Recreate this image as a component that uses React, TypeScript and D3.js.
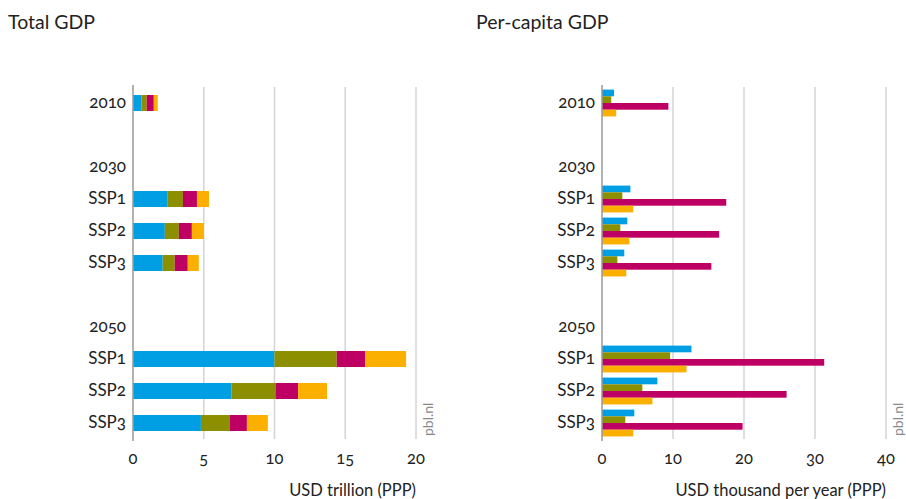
import React from "react";
import * as d3 from "d3";

const rows = ["2010", "", "2030", "SSP1", "SSP2", "SSP3", " ", "2050", "SSP1 ", "SSP2 ", "SSP3 "];
const rowLabels = ["2010", "", "2030", "SSP1", "SSP2", "SSP3", "", "2050", "SSP1", "SSP2", "SSP3"];
const dataRows = ["2010", "SSP1", "SSP2", "SSP3", "SSP1 ", "SSP2 ", "SSP3 "];
const colors = ["#009fe3", "#8c8f00", "#be0064", "#fbb000"];

// Total GDP segments (USD trillion PPP), stacked
const totalR1 = [0.6, 2.42, 2.25, 2.1, 10.0, 6.97, 4.8];
const totalR2 = [0.37, 1.11, 0.99, 0.85, 4.4, 3.1, 2.05];
const totalR3 = [0.5, 0.99, 0.92, 0.92, 2.0, 1.6, 1.2];
const totalR4 = [0.28, 0.85, 0.85, 0.78, 2.9, 2.04, 1.48];

// Per-capita GDP (USD thousand per year PPP)
const pcR1 = [1.7, 4.0, 3.56, 3.14, 12.6, 7.8, 4.55];
const pcR2 = [1.3, 2.86, 2.58, 2.16, 9.6, 5.68, 3.28];
const pcR3 = [9.35, 17.5, 16.5, 15.4, 31.3, 26.0, 19.8];
const pcR4 = [2.0, 4.4, 3.86, 3.42, 11.9, 7.1, 4.4];

const totalTicks = [0, 5, 10, 15, 20];
const pcTicks = [0, 10, 20, 30, 40];

const font = "Lato, 'Open Sans', sans-serif";
const top = 87;
const bottom = 439;
const onum = { fontVariantNumeric: "oldstyle-nums", fontFeatureSettings: "'onum' 1" } as any;

const y = d3.scaleBand<string>().domain(rows).range([top, bottom]);

function Panel({ x0, x1, max, ticks, title, axisTitle, titleX, stacked }: any) {
  const x = d3.scaleLinear().domain([0, max]).range([x0, x1]);
  const series = stacked
    ? [totalR1, totalR2, totalR3, totalR4]
    : [pcR1, pcR2, pcR3, pcR4];
  const marks: any[] = [];
  dataRows.forEach((r, i) => {
    const yc = (y(r) as number) + y.bandwidth() / 2;
    if (stacked) {
      let acc = 0;
      series.forEach((s, k) => {
        const v = s[i];
        marks.push(
          <rect key={r + k} x={x(acc)} y={yc - 8} width={x(acc + v) - x(acc)} height={16} fill={colors[k]} />
        );
        acc += v;
      });
    } else {
      const h = 6.7;
      series.forEach((s, k) => {
        marks.push(
          <rect key={r + k} x={x(0)} y={yc - 2 * h + k * h} width={x(s[i]) - x(0)} height={h} fill={colors[k]} />
        );
      });
    }
  });
  return (
    <g>
      <text x={titleX} y={29} fontSize={19.5} fill="#222" fontFamily={font}>{title}</text>
      {ticks.slice(1).map((t: number) => (
        <line key={t} x1={x(t)} x2={x(t)} y1={top} y2={bottom} stroke="#d4d4d4" strokeWidth={1.5} />
      ))}
      {marks}
      <line x1={x(0)} x2={x(0)} y1={top - 2} y2={bottom + 2} stroke="#999" strokeWidth={1.5} />
      {ticks.map((t: number) => (
        <text key={t} x={x(t)} y={464} textAnchor="middle" fontSize={16.5} fill="#222" fontFamily={font} style={onum}>{t}</text>
      ))}
      {rows.map((r, i) => (
        <text key={i} x={x0 - 7} y={(y(r) as number) + y.bandwidth() / 2 + 5} textAnchor="end" fontSize={17} fill="#222" fontFamily={font} style={onum}>{rowLabels[i]}</text>
      ))}
      <text x={x1} y={496} textAnchor="end" fontSize={16.5} fill="#222" fontFamily={font}>{axisTitle}</text>
      <text transform={`translate(${x1 + 17},${bottom - 3}) rotate(-90)`} fontSize={14} fill="#8a8a8a" fontFamily={font}>pbl.nl</text>
    </g>
  );
}

export default function App() {
  return (
    <svg width={906} height={499} style={{ display: "block", position: "absolute", left: 0, top: 0 }}>
      <rect width={906} height={499} fill="#fff" />
      <Panel x0={133} x1={416} max={20} ticks={totalTicks} title="Total GDP" axisTitle="USD trillion (PPP)" titleX={8} stacked />
      <Panel x0={602} x1={886} max={40} ticks={pcTicks} title="Per-capita GDP" axisTitle="USD thousand per year (PPP)" titleX={476} stacked={false} />
    </svg>
  );
}
